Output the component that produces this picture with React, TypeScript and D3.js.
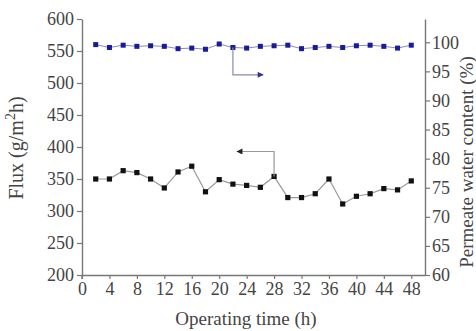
import React, { useEffect, useRef } from "react";
import * as d3 from "d3";

// operating time (h)
const hours = [2, 4, 6, 8, 10, 12, 14, 16, 18, 20, 22, 24, 26, 28, 30, 32, 34, 36, 38, 40, 42, 44, 46, 48];
// flux (g/m2h), left axis
const flux = [350, 350, 363, 360, 350, 336, 361, 370, 330, 349, 342, 340, 337, 354, 321, 321, 327, 350, 311, 323, 327, 335, 333, 347];
// permeate water content (%), right axis
const waterContent = [99.6, 99.1, 99.5, 99.3, 99.4, 99.3, 98.9, 99.0, 98.8, 99.7, 99.1, 99.0, 99.3, 99.4, 99.5, 98.9, 99.1, 99.3, 99.1, 99.4, 99.5, 99.3, 99.0, 99.5];

const xTicks = [0, 4, 8, 12, 16, 20, 24, 28, 32, 36, 40, 44, 48];
const leftTicks = [200, 250, 300, 350, 400, 450, 500, 550, 600];
const rightTicks = [60, 65, 70, 75, 80, 85, 90, 95, 100];

// arrows pointing each series to its axis: [x, y] in data units
const blueArrow = [[22, 99.1], [22, 94.4], [26.4, 94.4]];
const blackArrow = [[28, 354], [28, 393], [22.6, 393]];

const App = () => {
  const svgRef = useRef(null);

  useEffect(() => {
    const width = 476;
    const height = 331;
    const svg = d3.select(svgRef.current);
    svg.selectAll("*").remove();

    const x = d3.scaleLinear().domain([0, 50]).range([82, 425]);
    const yL = d3.scaleLinear().domain([200, 600]).range([275, 19]);
    const yR = d3.scaleLinear().domain([60, 104]).range([275, 19]);

    const axisColor = "#777";
    const textColor = "#444";
    const font = "Liberation Serif, Times New Roman, serif";

    const styleAxis = (g) => {
      g.attr("font-family", font).attr("font-size", 18);
      g.select(".domain").attr("stroke", axisColor).attr("stroke-width", 1.4);
      g.selectAll(".tick line").attr("stroke", axisColor).attr("stroke-width", 1.2);
      g.selectAll(".tick text")
        .attr("fill", textColor)
        .attr("font-family", font)
        .attr("font-size", 18);
    };

    // bottom axis
    svg.append("g")
      .attr("transform", `translate(0, ${yL(200)})`)
      .call(d3.axisBottom(x).tickValues(xTicks).tickSize(4).tickSizeOuter(0).tickPadding(3))
      .call(styleAxis);

    // left axis
    svg.append("g")
      .attr("transform", `translate(${x(0)}, 0)`)
      .call(d3.axisLeft(yL).tickValues(leftTicks).tickSize(5).tickSizeOuter(0).tickPadding(3))
      .call(styleAxis)
      .call(g => g.append("line")
        .attr("x1", 0).attr("x2", 0)
        .attr("y1", yL(200)).attr("y2", yL(200) + 4)
        .attr("stroke", axisColor).attr("stroke-width", 1.4));

    // right axis
    svg.append("g")
      .attr("transform", `translate(${x(50)}, 0)`)
      .call(d3.axisRight(yR).tickValues(rightTicks).tickSize(5).tickSizeOuter(0).tickPadding(2))
      .call(styleAxis);

    const line = d3.line();

    // flux series
    const fluxPts = hours.map((h, i) => [x(h), yL(flux[i])]);
    svg.append("path")
      .attr("d", line(fluxPts))
      .attr("fill", "none")
      .attr("stroke", "#999")
      .attr("stroke-width", 1.2);
    svg.selectAll(".fluxPt")
      .data(fluxPts)
      .enter()
      .append("rect")
      .attr("x", d => d[0] - 2.6)
      .attr("y", d => d[1] - 2.6)
      .attr("width", 5.2)
      .attr("height", 5.2)
      .attr("fill", "#111");

    // water content series
    const wcPts = hours.map((h, i) => [x(h), yR(waterContent[i])]);
    svg.append("path")
      .attr("d", line(wcPts))
      .attr("fill", "none")
      .attr("stroke", "#8a8ab8")
      .attr("stroke-width", 1);
    svg.selectAll(".wcPt")
      .data(wcPts)
      .enter()
      .append("rect")
      .attr("x", d => d[0] - 2.5)
      .attr("y", d => d[1] - 2.5)
      .attr("width", 5)
      .attr("height", 5)
      .attr("fill", "#1a1a9c");

    // arrows
    const defs = svg.append("defs");
    const marker = (id, color) => defs.append("marker")
      .attr("id", id)
      .attr("viewBox", "0 0 10 10")
      .attr("refX", 9).attr("refY", 5)
      .attr("markerWidth", 7).attr("markerHeight", 5)
      .attr("orient", "auto")
      .append("path")
      .attr("d", "M0,0L10,5L0,10Z")
      .attr("fill", color);
    marker("headBlue", "#3030a0");
    marker("headBlack", "#222");

    svg.append("path")
      .attr("d", line(blueArrow.map(d => [x(d[0]), yR(d[1])])))
      .attr("fill", "none")
      .attr("stroke", "#8a8ab0")
      .attr("stroke-width", 1.2)
      .attr("marker-end", "url(#headBlue)");

    svg.append("path")
      .attr("d", line(blackArrow.map(d => [x(d[0]), yL(d[1])])))
      .attr("fill", "none")
      .attr("stroke", "#999")
      .attr("stroke-width", 1.2)
      .attr("marker-end", "url(#headBlack)");

    // axis titles
    svg.append("text")
      .attr("x", 246)
      .attr("y", 325)
      .attr("text-anchor", "middle")
      .attr("fill", textColor)
      .attr("font-family", font)
      .attr("font-size", 19)
      .text("Operating time (h)");

    const leftTitle = svg.append("text")
      .attr("transform", `translate(23, 148) rotate(-90)`)
      .attr("text-anchor", "middle")
      .attr("fill", textColor)
      .attr("font-family", font)
      .attr("font-size", 20);
    leftTitle.append("tspan").text("Flux (g/m");
    leftTitle.append("tspan").attr("dy", -8).attr("font-size", 14).text("2");
    leftTitle.append("tspan").attr("dy", 8).text("h)");

    svg.append("text")
      .attr("transform", `translate(473, 162) rotate(-90)`)
      .attr("text-anchor", "middle")
      .attr("fill", textColor)
      .attr("font-family", font)
      .attr("font-size", 19)
      .text("Permeate water content (%)");

    svg.attr("width", width).attr("height", height);
  }, []);

  return (
    <svg
      ref={svgRef}
      width={476}
      height={331}
      style={{ position: "absolute", left: 0, top: 0, background: "#fff" }}
    ></svg>
  );
};

export default App;
